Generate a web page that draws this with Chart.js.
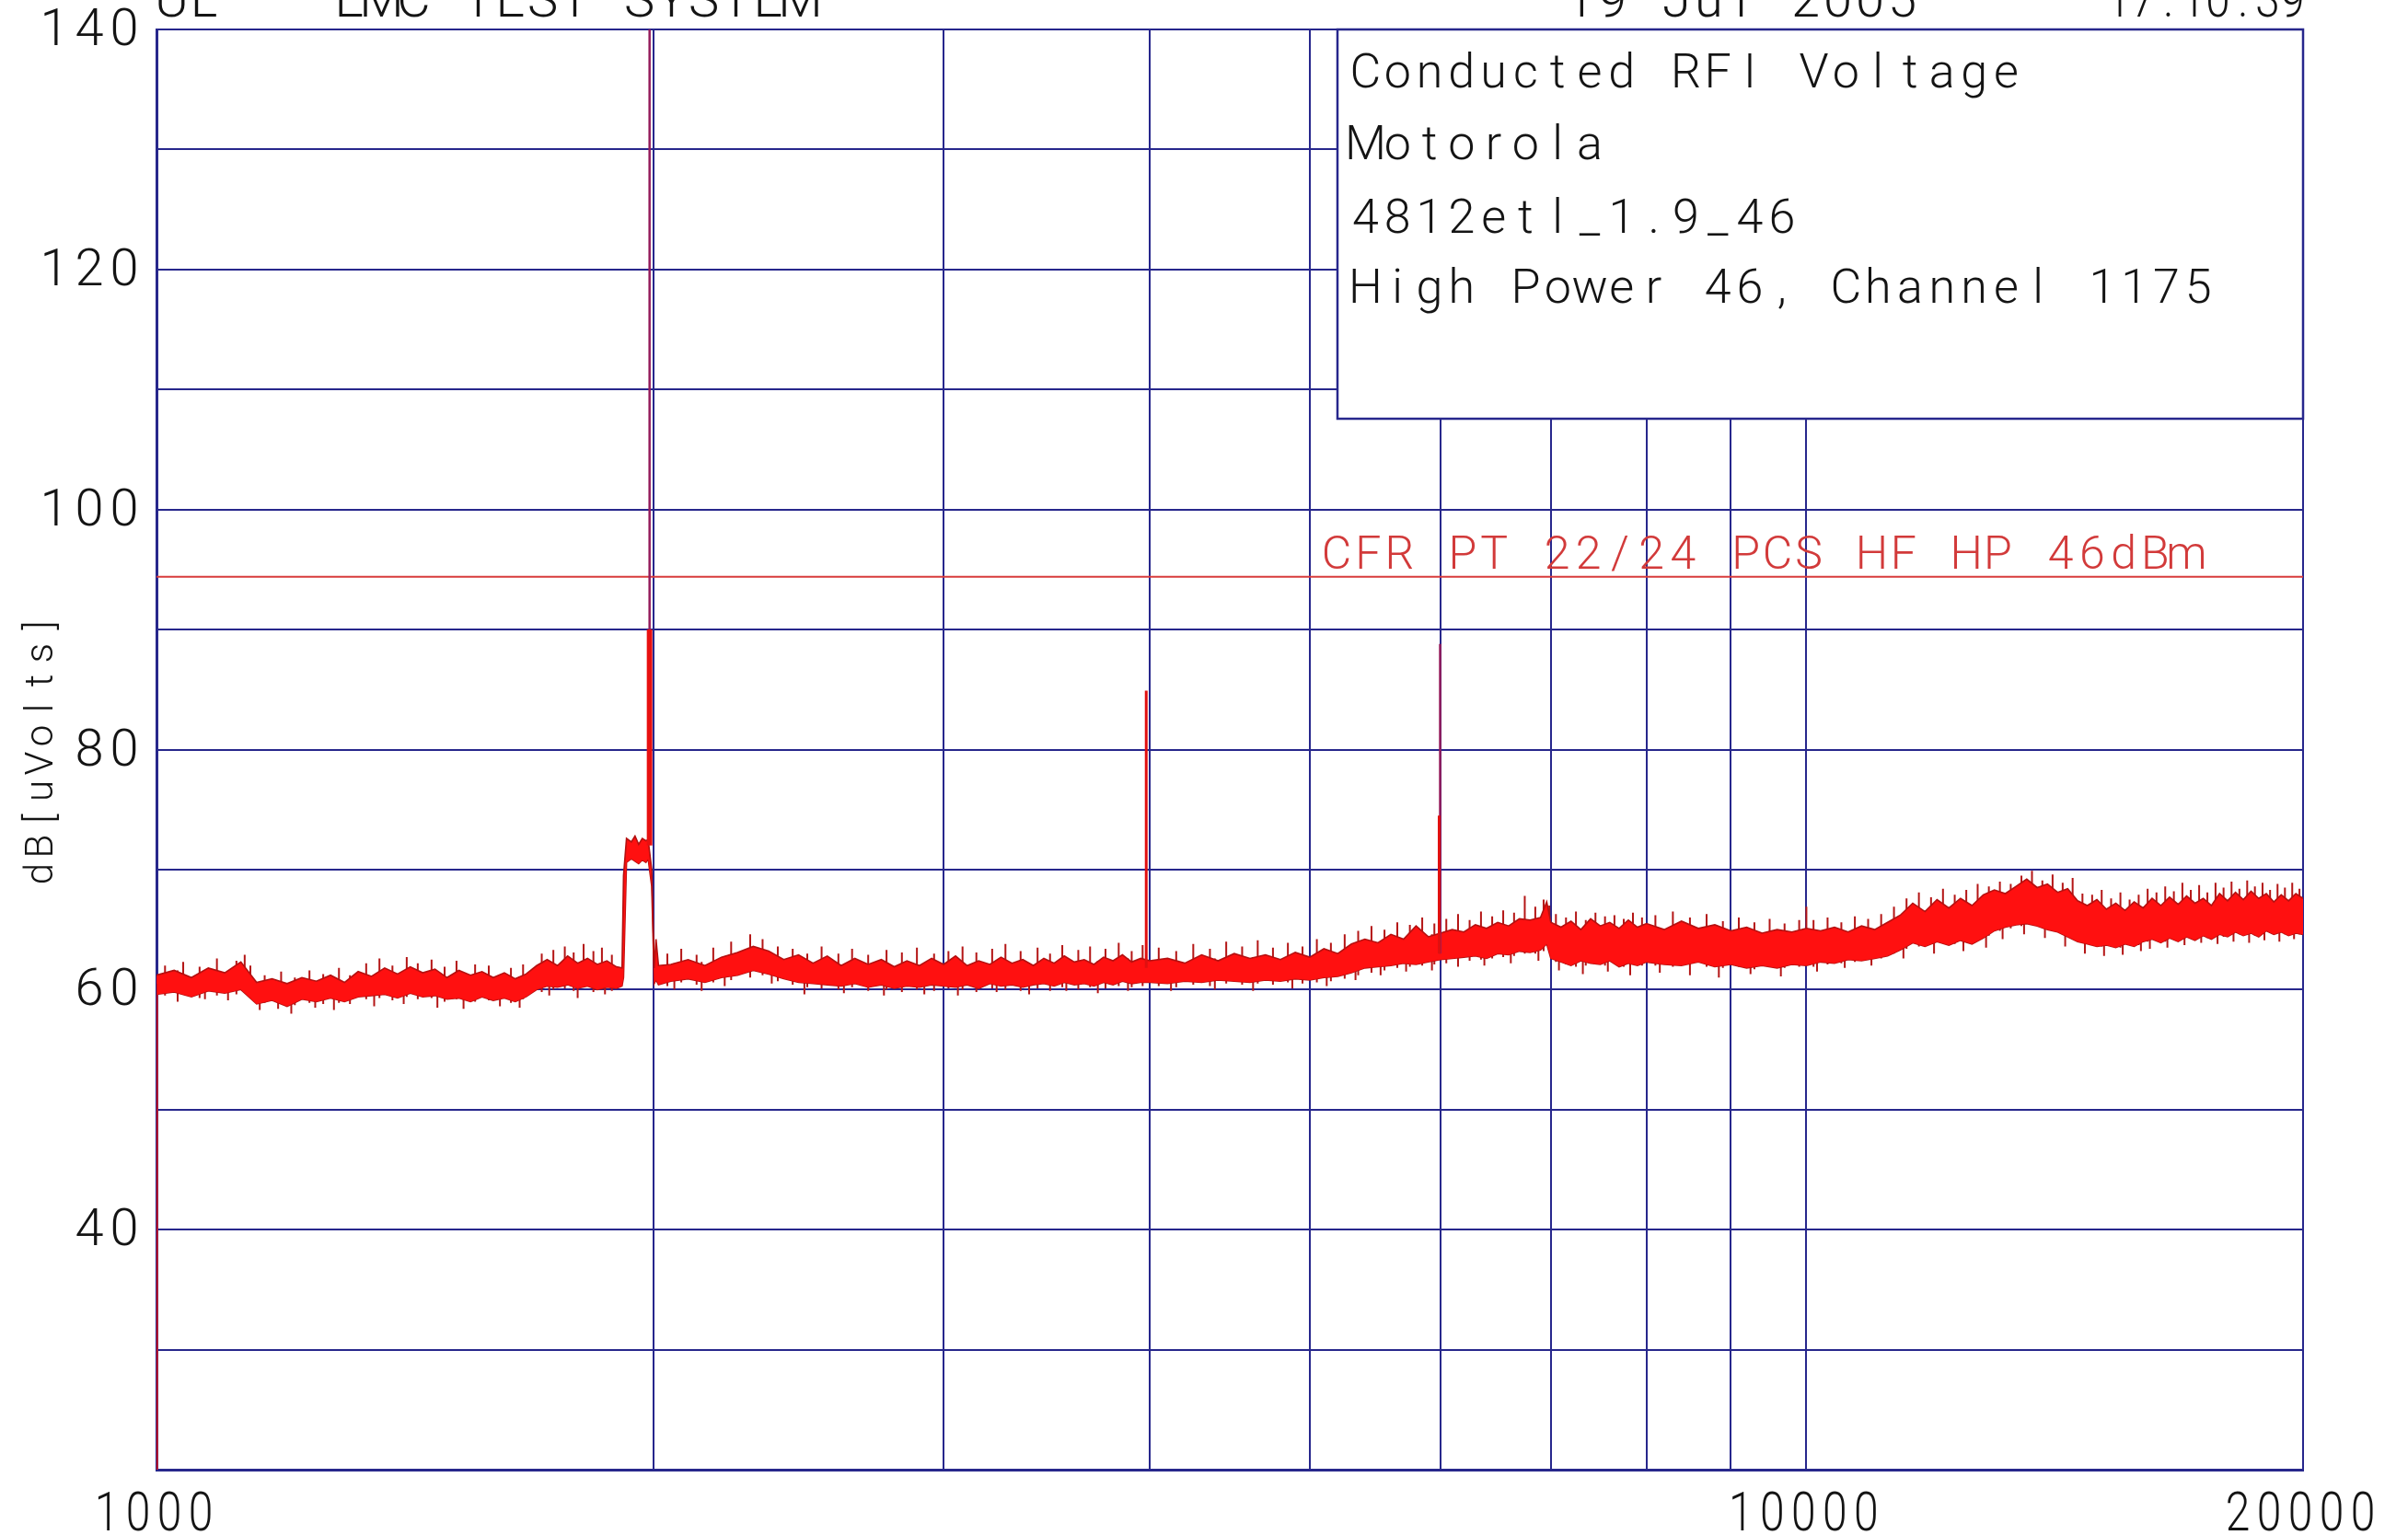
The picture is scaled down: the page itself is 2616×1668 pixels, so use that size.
<!DOCTYPE html>
<html>
<head>
<meta charset="utf-8">
<script src="https://cdn.jsdelivr.net/npm/chart.js@4.4.1/dist/chart.umd.min.js"></script>
<style>
  html, body { margin: 0; padding: 0; background: #fff; }
  canvas { display: block; }
</style>
</head>
<body>
<canvas id="rfiChart" width="2616" height="1668"></canvas>
<script>
// trace envelope (Hz, dB[uV])
var freqHz = [
  1000, 1025, 1050, 1075, 1100, 1125, 1150, 1175, 1200, 1225, 1250, 1275, 1300, 1325, 1350, 1375, 1400, 1425, 1450, 1475,
  1500, 1525, 1550, 1575, 1600, 1625, 1650, 1675, 1700, 1725, 1750, 1775, 1800, 1825, 1850, 1875, 1900,
  1915, 1919, 1927, 1940, 1950, 1960, 1970, 1980, 1986, 1996, 2003, 2008, 2015,
  2050, 2100, 2150, 2200, 2250, 2300, 2350, 2400, 2450, 2500, 2550, 2600, 2650, 2700, 2750, 2800, 2850, 2900, 2950, 3000,
  3050, 3100, 3150, 3200, 3250, 3300, 3350, 3400, 3450, 3500, 3550, 3600, 3650, 3700, 3750, 3800, 3850, 3900, 3950, 4000,
  4100, 4200, 4300, 4400, 4500, 4600, 4700, 4800, 4900, 5000, 5100, 5200, 5300, 5400, 5500, 5600, 5700, 5800, 5900, 6000,
  6100, 6200, 6300, 6400, 6500, 6600, 6700, 6800, 6900, 6960, 7000, 7100, 7200, 7300, 7400, 7500, 7600, 7700, 7800, 7900, 8000,
  8200, 8400, 8600, 8800, 9000, 9200, 9400, 9600, 9800, 10000, 10200, 10400, 10600, 10800, 11000, 11200, 11400, 11600, 11800, 12000,
  12200, 12400, 12600, 12800, 13000, 13200, 13400, 13600, 13800, 14000, 14200, 14400, 14600, 14800, 15000, 15200, 15400, 15600, 15800, 16000,
  16200, 16400, 16600, 16800, 17000, 17200, 17400, 17600, 17800, 18000, 18200, 18400, 18600, 18800, 19000, 19200, 19400, 19600, 19800, 20000
];
var peakDb = [
  61.2, 61.6, 61.0, 61.8, 61.4, 62.3, 60.6, 60.9, 60.5, 61.0, 60.7, 61.2, 60.6, 61.5, 61.1, 61.8, 61.3, 61.9, 61.4, 61.7,
  61.0, 61.6, 61.2, 61.5, 61.0, 61.4, 60.9, 61.3, 62.0, 62.5, 62.0, 62.8, 62.2, 62.6, 62.1, 62.4, 61.9,
  61.8, 69.5, 72.6, 72.3, 72.8, 72.1, 72.6, 72.4, 72.5, 70.0, 61.8, 64.2, 62.0,
  62.1, 62.5, 62.0, 62.7, 63.1, 63.6, 63.2, 62.5, 62.9, 62.2, 62.8, 62.0, 62.6, 62.1, 62.5, 61.9, 62.4, 62.0, 62.6, 62.1,
  62.8, 62.0, 62.4, 62.1, 62.7, 62.2, 62.5, 62.0, 62.6, 62.2, 62.8, 62.3, 62.5, 62.1, 62.7, 62.4, 62.9, 62.3, 62.6, 62.4,
  62.6, 62.2, 62.9, 62.4, 63.0, 62.6, 62.9, 62.5, 63.1, 62.7, 63.4, 63.0, 63.8, 64.2, 63.9, 64.6, 64.2, 65.3, 64.4, 64.7,
  65.0, 64.8, 65.4, 65.1, 65.6, 65.3, 65.9, 65.8, 66.0, 67.3, 65.6, 65.2, 65.7, 65.0, 65.9, 65.3, 65.6, 65.1, 65.8, 65.2, 65.5,
  65.0, 65.7, 65.1, 65.4, 64.9, 65.2, 64.7, 65.0, 64.8, 65.1, 64.9, 65.2, 64.8, 65.3, 65.0, 65.6, 66.2, 67.2, 66.5, 67.5,
  66.8, 67.6, 67.0, 67.9, 68.3, 68.0, 68.6, 69.2, 68.5, 68.8, 68.1, 68.4, 67.4, 67.0, 67.5, 66.7, 67.2, 66.6, 67.3, 66.8,
  67.6, 67.0, 67.7, 67.1, 67.8, 67.2, 67.6, 67.0, 68.0, 67.4, 68.1, 67.5, 68.2, 67.6, 68.0, 67.3, 67.9, 67.4, 68.0, 67.6
];
var floorDb = [
  59.6, 59.8, 59.4, 59.9, 59.7, 60.0, 58.8, 59.1, 58.6, 59.2, 59.0, 59.3, 59.0, 59.4, 59.5, 59.6, 59.3, 59.7, 59.4, 59.5,
  59.2, 59.3, 59.0, 59.4, 59.1, 59.3, 59.0, 59.4, 60.0, 60.3, 60.2, 60.4, 60.1, 60.3, 60.0, 60.2, 60.1,
  60.3, 61.0, 70.6, 70.9, 70.7, 70.5, 70.8, 70.6, 70.9, 68.6, 60.5, 60.8, 60.4,
  60.7, 60.9, 60.6, 61.0, 61.2, 61.6, 61.3, 60.9, 60.6, 60.5, 60.4, 60.3, 60.5, 60.2, 60.4, 60.1, 60.3, 60.2, 60.4, 60.3,
  60.2, 60.4, 60.1, 60.5, 60.3, 60.4, 60.2, 60.4, 60.5, 60.3, 60.6, 60.4, 60.5, 60.3, 60.6, 60.4, 60.7, 60.5, 60.6, 60.6,
  60.5, 60.7, 60.6, 60.8, 60.7, 60.6, 60.8, 60.7, 60.9, 60.8, 61.0, 61.1, 61.4, 61.8, 61.9, 62.0, 62.2, 62.1, 62.3, 62.5,
  62.6, 62.7, 62.8, 62.6, 63.0, 62.9, 63.2, 63.1, 63.3, 63.8, 62.6, 62.3, 62.0, 62.4, 62.2, 62.1, 62.4, 61.9, 62.2, 62.0, 62.3,
  62.1, 62.0, 62.3, 61.9, 62.1, 61.8, 62.0, 61.8, 62.1, 62.0, 62.3, 62.2, 62.5, 62.4, 62.6, 62.8, 63.3, 63.9, 63.6, 64.0,
  63.7, 64.1, 63.8, 64.3, 64.9, 65.2, 65.4, 65.5, 65.3, 65.0, 64.8, 64.4, 64.0, 63.8, 63.6, 63.7, 63.5, 63.8, 63.6, 64.0,
  64.2, 63.9, 64.3, 64.0, 64.4, 64.1, 64.5, 64.2, 64.6, 64.4, 64.8, 64.5, 64.7, 64.4, 64.9, 64.6, 64.8, 64.5, 64.7, 64.6
];

// single noise excursions poking out of the band (Hz, low dB, high dB)
var hairHz = [
  1012, 1030, 1038, 1062, 1070, 1088, 1105, 1118, 1131, 1140,
  1155, 1163, 1185, 1190, 1207, 1213, 1238, 1248, 1262, 1281,
  1290, 1310, 1340, 1355, 1365, 1390, 1412, 1418, 1440, 1468,
  1480, 1495, 1520, 1535, 1560, 1590, 1615, 1640, 1660, 1668,
  1712, 1730, 1740, 1768, 1790, 1800, 1815, 1840, 1862, 1870,
  1888, 2040, 2060, 2080, 2125, 2140, 2175, 2210, 2230, 2290,
  2330, 2360, 2380, 2430, 2470, 2480, 2530, 2590, 2610, 2640,
  2700, 2760, 2770, 2830, 2890, 2920, 2960, 3020, 3060, 3080,
  3140, 3210, 3230, 3270, 3340, 3380, 3420, 3480, 3540, 3560,
  3620, 3680, 3720, 3760, 3830, 3880, 3900, 3960, 4050, 4120,
  4150, 4250, 4350, 4380, 4450, 4550, 4620, 4650, 4750, 4850,
  4880, 4950, 5050, 5120, 5150, 5250, 5330, 5350, 5450, 5520,
  5550, 5650, 5720, 5750, 5850, 5930, 5950, 6050, 6150, 6250,
  6350, 6380, 6450, 6550, 6620, 6650, 6750, 6850, 6880, 6930,
  6985, 7050, 7080, 7150, 7250, 7320, 7350, 7450, 7550, 7580,
  7650, 7750, 7820, 7850, 7950, 8100, 8150, 8300, 8500, 8700,
  8850, 8900, 9100, 9250, 9300, 9500, 9650, 9700, 9900, 10000, 10100,
  10150, 10300, 10500, 10550, 10700, 10900, 10950, 11100, 11300, 11450,
  11500, 11700, 11900, 11950, 12100, 12300, 12450, 12500, 12700, 12850,
  12900, 13100, 13150, 13300, 13500, 13550, 13700, 13900, 13950, 14100,
  14300, 14350, 14500, 14700, 14750, 14900, 15100, 15150, 15300, 15500,
  15550, 15700, 15900, 15950, 16100, 16150, 16300, 16500, 16550, 16700,
  16900, 16950, 17100, 17300, 17350, 17500, 17700, 17750, 17900, 18100,
  18150, 18300, 18500, 18550, 18700, 18900, 18950, 19100, 19300, 19350,
  19500, 19700, 19750, 19900
];
var hairLo = [
  59.5, 59.0, 59.6, 59.3, 59.2, 59.5, 59.1, 59.6, 59.8, 59.4,
  58.3, 58.9, 58.4, 58.8, 58.0, 58.7, 58.9, 58.5, 58.8, 58.3,
  58.9, 58.8, 59.2, 58.6, 59.3, 59.1, 58.8, 59.4, 59.2, 59.3,
  58.5, 59.0, 59.2, 58.4, 59.0, 59.1, 58.6, 58.9, 58.5, 59.2,
  59.8, 59.5, 60.0, 60.1, 59.9, 59.3, 60.2, 59.8, 60.0, 59.6,
  59.9, 60.3, 60.0, 60.6, 60.4, 59.9, 60.6, 60.3, 60.8, 61.0,
  61.2, 60.5, 60.7, 60.4, 59.6, 60.2, 60.1, 60.0, 59.7, 60.2,
  59.9, 59.5, 60.0, 59.8, 60.0, 59.6, 59.9, 60.1, 59.5, 60.0,
  59.8, 60.1, 59.8, 60.0, 59.9, 59.6, 60.1, 59.9, 60.2, 59.9,
  60.0, 60.2, 59.7, 60.1, 60.3, 59.9, 60.2, 60.3, 60.3, 59.9,
  60.2, 60.4, 60.3, 60.0, 60.5, 60.4, 59.9, 60.5, 60.4, 60.6,
  60.1, 60.5, 60.6, 60.3, 60.7, 60.9, 60.8, 61.2, 61.4, 61.2,
  61.6, 61.8, 61.5, 61.9, 62.0, 61.6, 62.1, 62.2, 61.9, 62.4,
  62.5, 62.0, 62.6, 62.7, 62.2, 62.8, 63.0, 63.0, 62.4, 63.2,
  63.4, 62.3, 61.6, 62.1, 61.9, 61.3, 62.0, 62.1, 62.0, 61.5,
  62.2, 61.9, 61.2, 62.1, 62.0, 62.0, 61.4, 61.9, 61.2, 61.9,
  61.0, 61.8, 61.9, 61.3, 61.7, 61.9, 61.1, 61.8, 61.9, 62.3, 61.9,
  61.5, 62.1, 62.2, 61.8, 62.3, 62.5, 62.0, 62.6, 63.0, 62.6,
  63.4, 63.6, 63.8, 63.0, 63.9, 63.8, 63.2, 64.0, 64.1, 63.5,
  64.5, 64.9, 64.2, 65.1, 65.3, 64.6, 65.4, 65.2, 64.3, 64.9,
  64.6, 63.6, 64.3, 63.9, 63.0, 63.7, 63.6, 62.8, 63.6, 63.5,
  62.9, 63.7, 63.7, 63.2, 64.0, 63.4, 64.1, 64.0, 63.5, 64.2,
  64.2, 63.7, 64.3, 64.4, 63.9, 64.3, 64.5, 63.8, 64.4, 64.6,
  64.0, 64.6, 64.6, 63.9, 64.5, 64.7, 64.1, 64.7, 64.7, 64.0,
  64.6, 64.7, 64.2, 64.6
];
var hairHi = [
  62.0, 61.6, 62.3, 61.9, 61.2, 62.6, 61.5, 62.4, 62.9, 62.0,
  60.5, 61.2, 60.6, 61.5, 60.4, 61.0, 61.6, 60.6, 61.3, 60.8,
  61.8, 61.2, 62.2, 61.0, 62.6, 62.0, 61.2, 62.7, 62.2, 62.5,
  61.0, 61.9, 62.4, 60.9, 62.1, 62.0, 61.0, 61.8, 61.1, 62.1,
  63.0, 61.9, 63.3, 63.6, 63.1, 61.8, 63.8, 63.2, 63.5, 61.9,
  62.9, 63.0, 62.2, 63.4, 62.9, 62.3, 63.5, 62.6, 64.0, 64.6,
  64.2, 62.9, 63.6, 63.4, 62.2, 63.0, 63.6, 63.0, 62.0, 63.4,
  62.9, 62.1, 63.3, 63.1, 63.5, 62.1, 63.0, 63.2, 62.2, 63.6,
  63.1, 63.4, 62.3, 63.8, 63.2, 62.2, 63.5, 63.0, 63.7, 62.5,
  63.3, 63.6, 62.4, 63.4, 63.9, 62.6, 63.2, 63.7, 63.5, 62.5,
  63.2, 63.8, 63.4, 62.6, 64.0, 63.6, 62.7, 64.1, 63.5, 63.9,
  62.9, 63.6, 64.2, 63.0, 63.9, 64.6, 63.6, 64.9, 65.3, 64.0,
  65.0, 65.6, 64.3, 65.4, 66.0, 64.6, 65.5, 65.9, 66.3, 65.8,
  66.5, 65.0, 66.1, 66.6, 65.4, 66.4, 67.8, 66.9, 65.8, 67.5,
  67.0, 66.3, 64.5, 66.0, 66.5, 64.4, 65.8, 66.4, 66.1, 64.3,
  66.2, 65.9, 64.2, 66.4, 66.0, 66.2, 64.3, 66.5, 66.0, 66.3,
  64.0, 65.7, 66.0, 64.2, 65.6, 65.9, 64.1, 65.5, 65.8, 66.9, 65.8,
  64.0, 66.0, 65.6, 64.2, 66.1, 65.9, 64.4, 66.3, 66.9, 65.0,
  67.6, 68.1, 67.7, 65.8, 68.4, 67.9, 66.0, 68.3, 68.8, 66.5,
  68.6, 69.0, 67.0, 68.8, 69.5, 67.5, 69.9, 69.1, 67.2, 69.6,
  68.9, 66.6, 69.3, 68.0, 66.0, 67.9, 68.3, 65.6, 67.6, 68.1,
  65.5, 67.5, 67.9, 65.9, 68.4, 66.0, 68.1, 68.6, 66.2, 68.2,
  68.9, 66.4, 68.3, 68.7, 66.5, 68.1, 68.9, 66.6, 68.5, 69.0,
  66.7, 68.4, 69.1, 66.8, 68.6, 68.9, 66.9, 68.3, 68.8, 66.8,
  68.5, 68.9, 67.0, 68.4
];

// narrow-band spikes (vertical lines)
var spikeHz = [1000, 3980, 5990];
var spikeFrom = [20, 61.8, 63];
var spikeTo = [60.5, 84.9, 74.5];
var burstHz = [1990];
var burstFrom = [72];
var burstTo = [90];
var needleHz = [1990, 5998];
var needleFrom = [90, 63];
var needleTo = [140, 88.8];

// limit line
var limitHz = [1000, 20000];
var limitDb = [94.4, 94.4];
var limitText = 'CFR PT 22/24 PCS HF HP 46dBm';

// axes
var gridHz = [1000, 2000, 3000, 4000, 5000, 6000, 7000, 8000, 9000, 10000, 20000];
var xTickLabels = [1000, 10000, 20000];
var yTickLabels = [40, 60, 80, 100, 120, 140];
var yTitle = 'dB[uVolts]';

// header + info box
var headLeft = ['UL', 'EMC TEST SYSTEM'];
var headRight = ['19 Jul 2005', '17:10:39'];
var infoLines = ['Conducted RFI Voltage', 'Motorola', '4812etl_1.9_46', 'High Power 46, Channel 1175'];

var NAVY = '#27278c';
var FONT = 'Roboto, "DejaVu Sans", sans-serif';

function bandPoints(vals) {
    return freqHz.map(function (f, i) { return { x: f, y: vals[i] }; });
}

function segPoints(xs, from, to) {
    var pts = [];
    for (var i = 0; i < xs.length; i++) {
        pts.push({ x: xs[i], y: from[i] }, { x: xs[i], y: to[i] }, { x: xs[i], y: null });
    }
    return pts;
}

// plotter-like fixed pitch text
function mono(ctx, text, x, y, o) {
    ctx.save();
    ctx.font = '300 ' + o.size + 'px ' + FONT;
    ctx.fillStyle = o.color || '#141414';
    ctx.textAlign = 'center';
    ctx.textBaseline = 'alphabetic';
    var w = o.adv * text.length;
    var x0 = o.align === 'right' ? x - w : (o.align === 'center' ? x - w / 2 : x);
    for (var i = 0; i < text.length; i++) {
        ctx.save();
        ctx.translate(x0 + o.adv * (i + 0.5), y);
        ctx.scale(o.sx || 1, 1);
        ctx.fillText(text[i], 0, 0);
        ctx.restore();
    }
    ctx.restore();
}

var plotterText = {
    id: 'plotterText',
    afterDraw: function (chart) {
        var ctx = chart.ctx;
        var xs = chart.scales.x, ys = chart.scales.y, a = chart.chartArea;

        // info box covering the upper right grid
        var bx = 1453, by = a.top, bw = a.right - 1453, bh = 455 - a.top;
        ctx.save();
        ctx.fillStyle = '#fff';
        ctx.fillRect(bx, by, bw, bh);
        ctx.strokeStyle = NAVY;
        ctx.lineWidth = 2.5;
        ctx.strokeRect(bx, by, bw, bh);
        ctx.restore();
        var base = [95, 173, 253, 329];
        infoLines.forEach(function (t, i) {
            mono(ctx, t, 1466, base[i], { size: 52, adv: 34.8 });
        });

        // limit label
        mono(ctx, limitText, 1435, ys.getPixelForValue(limitDb[0]) - 9, { size: 50, adv: 34.2, color: '#d23a3a' });

        // y tick labels
        yTickLabels.forEach(function (v) {
            mono(ctx, String(v), a.left - 16, ys.getPixelForValue(v) + 17, { size: 56, adv: 38, align: 'right' });
        });
        // x tick labels
        xTickLabels.forEach(function (v) {
            mono(ctx, String(v), xs.getPixelForValue(v) - 3, 1663, { size: 60, adv: 34, sx: 0.8, align: 'center' });
        });

        // y title, rotated
        ctx.save();
        ctx.translate(43, (a.top + a.bottom) / 2);
        ctx.rotate(-Math.PI / 2);
        mono(ctx, yTitle, 0, 14, { size: 42, adv: 30, align: 'center' });
        ctx.restore();

        // header, mostly cut off by the top edge
        mono(ctx, headLeft[0], 169, 18, { size: 56, adv: 35 });
        mono(ctx, headLeft[1], 362, 18, { size: 56, adv: 35 });
        mono(ctx, headRight[0], 1699, 18, { size: 56, adv: 35 });
        mono(ctx, headRight[1], 2288, 18, { size: 56, adv: 27, sx: 0.85 });
    }
};

var ctx = document.getElementById('rfiChart').getContext('2d');
var chart = new Chart(ctx, {
    type: 'line',
    data: {
        datasets: [
            {
                label: 'burst',
                data: segPoints(burstHz, burstFrom, burstTo),
                borderColor: '#e81010',
                borderWidth: 6,
                pointRadius: 0,
                spanGaps: false,
                order: 0,
            },
            {
                label: 'spikes',
                data: segPoints(spikeHz, spikeFrom, spikeTo),
                borderColor: '#e01010',
                borderWidth: 3,
                pointRadius: 0,
                spanGaps: false,
                order: 0,
            },
            {
                label: 'needles',
                data: segPoints(needleHz, needleFrom, needleTo),
                borderColor: '#951c5c',
                borderWidth: 2.5,
                pointRadius: 0,
                spanGaps: false,
                order: 1,
            },
            {
                label: 'peak',
                data: bandPoints(peakDb),
                borderColor: '#b51010',
                borderWidth: 1.6,
                backgroundColor: '#ff1010',
                fill: '+1',
                pointRadius: 0,
                tension: 0,
                order: 2,
            },
            {
                label: 'floor',
                data: bandPoints(floorDb),
                borderColor: '#b51010',
                borderWidth: 1.6,
                pointRadius: 0,
                tension: 0,
                order: 3,
            },
            {
                label: 'hairs',
                data: segPoints(hairHz, hairLo, hairHi),
                borderColor: '#b41616',
                borderWidth: 2,
                pointRadius: 0,
                spanGaps: false,
                order: 5,
            },
            {
                label: 'limit',
                data: limitHz.map(function (f, i) { return { x: f, y: limitDb[i] }; }),
                borderColor: '#d83c3c',
                borderWidth: 2,
                pointRadius: 0,
                order: 4,
            },
        ],
    },
    options: {
        responsive: false,
        animation: false,
        devicePixelRatio: 1,
        layout: { padding: { left: 170, right: 114, top: 32, bottom: 71 } },
        plugins: { legend: { display: false }, tooltip: { enabled: false } },
        scales: {
            x: {
                type: 'logarithmic',
                min: 1000,
                max: 20000,
                afterBuildTicks: function (s) { s.ticks = gridHz.map(function (v) { return { value: v }; }); },
                ticks: { display: false },
                grid: { color: NAVY, lineWidth: 2, drawTicks: false },
                border: { color: NAVY, width: 3 },
            },
            y: {
                type: 'linear',
                min: 20,
                max: 140,
                ticks: { display: false, stepSize: 10 },
                grid: { color: NAVY, lineWidth: 2, drawTicks: false },
                border: { color: NAVY, width: 3 },
            },
        },
    },
    plugins: [plotterText],
});
</script>
</body>
</html>
